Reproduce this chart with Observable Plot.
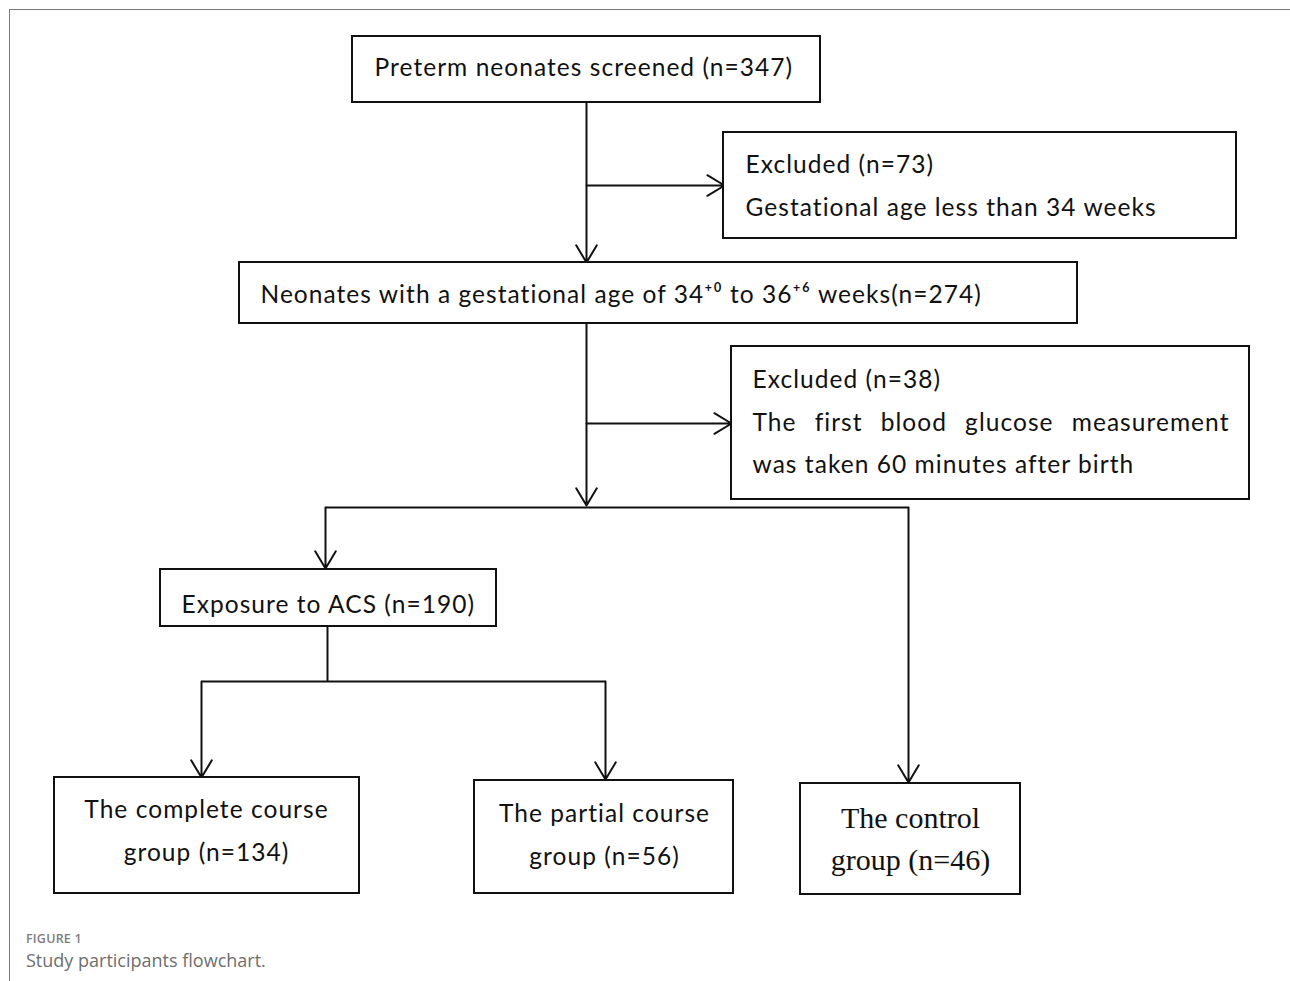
<!DOCTYPE html>
<html>
<head>
<meta charset="utf-8">
<script src="https://cdn.jsdelivr.net/npm/d3@7"></script>
<script src="https://cdn.jsdelivr.net/npm/@observablehq/plot@0.6"></script>
<style>
  html, body { margin: 0; padding: 0; background: #fff; }
  #wrap { position: relative; width: 1290px; height: 981px; overflow: hidden; }
  #frame { position: absolute; left: 9px; top: 9px; width: 1290px; height: 980px;
           border-top: 1.5px solid #7a7a7a; border-left: 1.5px solid #7a7a7a; pointer-events: none; }
  #chart { position: absolute; left: 0; top: 0; }
  #caption { position: absolute; left: 26px; top: 930px; font-family: "Open Sans", Lato, sans-serif; color: #6b6b6b; }
  #caption .fig { font-size: 12.5px; font-weight: 600; letter-spacing: 0.2px; color: #7d7d7d; line-height: 17px; }
  #caption .txt { font-size: 18px; margin-top: 1px; color: #6e6e6e; line-height: 24px; }
</style>
</head>
<body>
<div id="wrap">
  <div id="chart"></div>
  <div id="frame"></div>
  <div id="caption"><div class="fig">FIGURE 1</div><div class="txt">Study participants flowchart.</div></div>
</div>
<script>
// ---- data ----
const counts = {screened: 347, excludedGA: 73, lateP: 274, excludedGlu: 38, acs: 190, complete: 134, partial: 56, control: 46};
const boxIds = ["screened", "excludedGA", "lateP", "excludedGlu", "acs", "complete", "partial", "control"];
const boxLines = [
  [`Preterm neonates screened (n=${counts.screened})`],
  [`Excluded (n=${counts.excludedGA})`, "Gestational age less than 34 weeks"],
  [`Neonates with a gestational age of 34\u207A\u2070 to 36\u207A\u2076 weeks(n=${counts.lateP})`],
  [`Excluded (n=${counts.excludedGlu})`, "The first blood glucose measurement", "was taken 60 minutes after birth"],
  [`Exposure to ACS (n=${counts.acs})`],
  ["The complete course", `group (n=${counts.complete})`],
  ["The partial course", `group (n=${counts.partial})`],
  ["The control", `group (n=${counts.control})`]
];

// ---- layout (flowchart geometry) ----
const boxX1 = [352, 723, 239, 731, 160, 54, 474, 800];
const boxX2 = [820, 1236, 1077, 1249, 496, 359, 733, 1020];
const boxY1 = [36, 132, 262, 346, 569, 777, 780, 783];
const boxY2 = [102, 238, 323, 499, 626, 893, 893, 894];
const textX = [374, 745, 260, 752, 181, 206, 604, 910];
const textAnchor = ["start", "start", "start", "start", "start", "middle", "middle", "middle"];
const lineY = [[68], [165, 208], [295], [380, 423, 465], [605], [810, 853], [814, 857], [818, 860]];
const justifyWidth = 477; // width of the justified line in box 4

const arrowSegs = [
  [586, 102, 586, 262], [586, 185, 724, 185],
  [586, 323, 586, 505], [586, 423, 731, 423],
  [325, 507, 325, 568], [908, 507, 908, 782],
  [201, 681, 201, 777], [605, 681, 605, 779]
];
const plainSegs = [
  [325, 507, 908, 507], [327, 626, 327, 681], [201, 681, 605, 681]
];

const boxes = boxIds.map((id, i) => ({id, x1: boxX1[i], x2: boxX2[i], y1: boxY1[i], y2: boxY2[i]}));
const texts = boxIds.flatMap((id, i) => boxLines[i].map((t, j) => ({
  id, text: t, x: textX[i], y: lineY[i][j], anchor: textAnchor[i],
  serif: id === "control", justify: id === "excludedGlu" && j === 1
})));
const arrows = arrowSegs.map(([x1, y1, x2, y2]) => ({x1, y1, x2, y2}));
const links = plainSegs.map(([x1, y1, x2, y2]) => ({x1, y1, x2, y2}));

const W = 1290, H = 915;
const sans = "Lato, 'Open Sans', sans-serif";
const serif = "'Liberation Serif', 'DejaVu Serif', serif";
const fs = 24.5;

const plot = Plot.plot({
  width: W, height: H,
  margin: 0,
  x: {domain: [0, W], range: [0, W], axis: null},
  y: {domain: [0, H], range: [0, H], axis: null},
  style: {background: "transparent"},
  marks: [
    Plot.link(links, {x1: "x1", y1: "y1", x2: "x2", y2: "y2", stroke: "#111", strokeWidth: 2}),
    Plot.arrow(arrows, {x1: "x1", y1: "y1", x2: "x2", y2: "y2", stroke: "#111", strokeWidth: 2, headLength: 15, headAngle: 62}),
    Plot.rect(boxes, {x1: "x1", x2: "x2", y1: "y1", y2: "y2", fill: "white", stroke: "#111", strokeWidth: 2}),
    Plot.text(texts.filter(d => !d.serif && d.anchor === "start" && !d.justify), {x: "x", y: "y", text: "text", textAnchor: "start", fontSize: fs, fontFamily: sans, fill: "#111", className: "sans"}),
    Plot.text(texts.filter(d => d.justify), {x: "x", y: "y", text: "text", textAnchor: "start", fontSize: fs, fontFamily: sans, fill: "#111", className: "justify"}),
    Plot.text(texts.filter(d => !d.serif && d.anchor === "middle"), {x: "x", y: "y", text: "text", textAnchor: "middle", fontSize: fs, fontFamily: sans, fill: "#111", className: "sans"}),
    Plot.text(texts.filter(d => d.serif), {x: "x", y: "y", text: "text", textAnchor: "middle", fontSize: 30, fontFamily: serif, fill: "#111"})
  ]
});
document.getElementById("chart").appendChild(plot);
plot.querySelectorAll(".sans text, .justify text").forEach(t => { t.style.letterSpacing = "1.05px"; });
// justify the middle line of box 4 by adjusting word spacing
plot.querySelectorAll(".justify text").forEach(t => {
  const words = t.textContent.trim().split(/\s+/).length;
  const w = t.getComputedTextLength();
  const extra = (justifyWidth - w) / Math.max(1, words - 1);
  t.style.wordSpacing = `${Math.max(0, extra)}px`;
});
</script>
</body>
</html>
